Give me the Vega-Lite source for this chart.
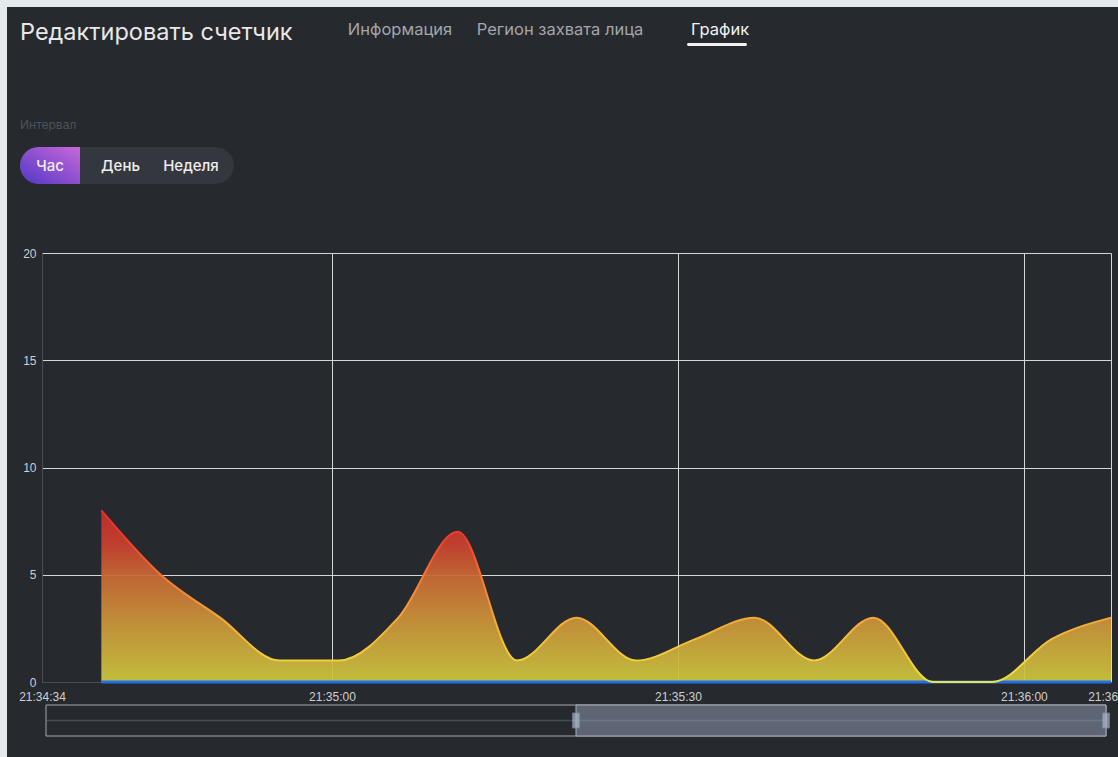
{
  "$schema": "https://vega.github.io/schema/vega-lite/v6.json",
  "width": 1111,
  "height": 750,
  "autosize": {"type": "none"},
  "padding": {"left": 7, "top": 7, "right": 0, "bottom": 0},
  "background": "#e4e9ec",
  "config": {"view": {"fill": "#26292e", "stroke": null}, "font": "Liberation Sans"},
  "datasets": {
    "counts": [
      {"time": "2024-01-01T21:34:40.000", "count": 8},
      {"time": "2024-01-01T21:34:45.150", "count": 5},
      {"time": "2024-01-01T21:34:50.300", "count": 3},
      {"time": "2024-01-01T21:34:55.450", "count": 1},
      {"time": "2024-01-01T21:35:00.600", "count": 1},
      {"time": "2024-01-01T21:35:05.750", "count": 3},
      {"time": "2024-01-01T21:35:10.900", "count": 7},
      {"time": "2024-01-01T21:35:16.050", "count": 1},
      {"time": "2024-01-01T21:35:21.200", "count": 3},
      {"time": "2024-01-01T21:35:26.350", "count": 1},
      {"time": "2024-01-01T21:35:31.500", "count": 2},
      {"time": "2024-01-01T21:35:36.650", "count": 3},
      {"time": "2024-01-01T21:35:41.800", "count": 1},
      {"time": "2024-01-01T21:35:46.950", "count": 3},
      {"time": "2024-01-01T21:35:52.100", "count": 0},
      {"time": "2024-01-01T21:35:57.250", "count": 0},
      {"time": "2024-01-01T21:36:02.400", "count": 2},
      {"time": "2024-01-01T21:36:07.550", "count": 3}
    ],
    "heading": [{"heading": "Редактировать счетчик"}],
    "tabs": [
      {"tab": "Информация"},
      {"tab": "Регион захвата лица"},
      {"tab": "График"}
    ],
    "interval": [{"control": "Интервал"}],
    "buttons": [
      {"button": "Час", "selected": true},
      {"button": "День", "selected": false},
      {"button": "Неделя", "selected": false}
    ],
    "zoom": [
      {"part": "all", "start": 0, "end": 100},
      {"part": "window", "start": 50, "end": 100}
    ]
  },
  "resolve": {
    "scale": {"x": "independent", "y": "independent", "color": "independent"},
    "axis": {"x": "independent", "y": "independent"}
  },
  "layer": [
    {
      "data": {"name": "counts"},
      "encoding": {
        "x": {
          "field": "time",
          "type": "temporal",
          "scale": {
            "domain": [
              {"year": 2024, "month": 1, "date": 1, "hours": 21, "minutes": 34, "seconds": 34, "milliseconds": 855},
              {"year": 2024, "month": 1, "date": 1, "hours": 21, "minutes": 36, "seconds": 7, "milliseconds": 550}
            ],
            "range": [35, 1104],
            "nice": false
          },
          "axis": {
            "orient": "top",
            "offset": -675,
            "title": null,
            "values": [
              {"year": 2024, "month": 1, "date": 1, "hours": 21, "minutes": 34, "seconds": 34, "milliseconds": 855},
              {"year": 2024, "month": 1, "date": 1, "hours": 21, "minutes": 35, "seconds": 0},
              {"year": 2024, "month": 1, "date": 1, "hours": 21, "minutes": 35, "seconds": 30},
              {"year": 2024, "month": 1, "date": 1, "hours": 21, "minutes": 36, "seconds": 0},
              {"year": 2024, "month": 1, "date": 1, "hours": 21, "minutes": 36, "seconds": 7, "milliseconds": 550}
            ],
            "format": "%H:%M:%S",
            "labelFlush": false,
            "labelOverlap": false,
            "labelBound": false,
            "labelFont": "Liberation Sans",
            "labelFontSize": 12,
            "labelColor": "#cfcfcf",
            "labelBaseline": "top",
            "labelPadding": -9,
            "ticks": false,
            "domainColor": "#4a4e54",
            "grid": true,
            "gridColor": {"condition": {"test": "datum.value < datetime(2024, 0, 1, 21, 34, 50)", "value": "#4a4e54"}, "value": "#d6d6d6"},
            "gridWidth": 1
          }
        },
        "y": {
          "field": "count",
          "type": "quantitative",
          "scale": {"domain": [0, 20], "range": [675, 246], "nice": false},
          "axis": {
            "orient": "left",
            "offset": -35,
            "title": null,
            "values": [0, 5, 10, 15, 20],
            "labelFont": "Liberation Sans",
            "labelFontSize": 12,
            "labelColor": "#cfcfcf",
            "labelPadding": 6,
            "ticks": false,
            "domainColor": "#4a4e54",
            "grid": true,
            "gridColor": {"condition": {"test": "datum.value === 0", "value": "#4a4e54"}, "value": "#d6d6d6"},
            "gridWidth": 1
          }
        }
      },
      "layer": [
        {
          "mark": {
            "type": "area",
            "interpolate": "monotone",
            "fillOpacity": 0.93,
            "color": {
              "gradient": "linear",
              "x1": 0, "y1": 1, "x2": 0, "y2": 0,
              "stops": [
                {"offset": 0, "color": "#cdc83e"},
                {"offset": 0.35, "color": "#cc9539"},
                {"offset": 0.6, "color": "#cb6d35"},
                {"offset": 0.8, "color": "#cb412f"},
                {"offset": 1, "color": "#c92a2b"}
              ]
            }
          }
        },
        {
          "mark": {"type": "line", "color": "#1f6fe8", "strokeWidth": 3},
          "encoding": {"y": {"datum": 0}}
        },
        {
          "mark": {
            "type": "line",
            "interpolate": "monotone",
            "strokeWidth": 2,
            "color": {
              "gradient": "linear",
              "x1": 0, "y1": 1, "x2": 0, "y2": 0,
              "stops": [
                {"offset": 0, "color": "#f2e43c"},
                {"offset": 0.35, "color": "#f5ac35"},
                {"offset": 0.6, "color": "#f57a30"},
                {"offset": 0.85, "color": "#ef3a2b"},
                {"offset": 1, "color": "#e8302a"}
              ]
            }
          }
        }
      ]
    },
    {
      "data": {"name": "zoom"},
      "layer": [
        {
          "transform": [{"filter": "datum.part === 'all'"}],
          "mark": {"type": "rect", "fill": "#26292e", "stroke": "#a3a7ad", "strokeWidth": 1},
          "encoding": {
            "x": {"field": "start", "type": "quantitative", "scale": {"domain": [0, 100], "range": [39, 1099], "nice": false, "zero": false}, "axis": null},
            "x2": {"field": "end"},
            "y": {"datum": 0, "type": "quantitative", "scale": {"domain": [0, 1], "range": [729, 698], "nice": false}, "axis": null},
            "y2": {"datum": 1}
          }
        },
        {
          "transform": [{"filter": "datum.part === 'window'"}],
          "mark": {"type": "rect", "fill": "#5e6574", "stroke": "#a9aeb6", "strokeWidth": 1},
          "encoding": {
            "x": {"field": "start", "type": "quantitative"},
            "x2": {"field": "end"},
            "y": {"datum": 0, "type": "quantitative"},
            "y2": {"datum": 1}
          }
        },
        {
          "transform": [{"filter": "datum.part === 'all'"}],
          "mark": {"type": "rule", "color": "#9aa0a8", "opacity": 0.3, "strokeWidth": 1.5},
          "encoding": {
            "x": {"field": "start", "type": "quantitative"},
            "x2": {"field": "end"},
            "y": {"datum": 0.5, "type": "quantitative"}
          }
        },
        {
          "transform": [
            {"filter": "datum.part === 'window'"},
            {"fold": ["start", "end"], "as": ["edge", "position"]}
          ],
          "mark": {"type": "tick", "orient": "vertical", "thickness": 7, "size": 15, "color": "#a9b7cc", "stroke": "#8797ad", "strokeWidth": 1},
          "encoding": {
            "x": {"field": "position", "type": "quantitative"},
            "y": {"datum": 0.5, "type": "quantitative"}
          }
        }
      ]
    },
    {
      "data": {"name": "heading"},
      "mark": {"type": "text", "align": "left", "baseline": "middle", "font": "Inter", "fontSize": 23.5, "color": "#e8e8e8"},
      "encoding": {
        "text": {"field": "heading"},
        "x": {"field": "heading", "type": "nominal", "scale": {"type": "point", "range": [13, 13], "padding": 0}, "axis": null},
        "y": {"field": "heading", "type": "nominal", "scale": {"type": "point", "range": [26, 26], "padding": 0}, "axis": null}
      }
    },
    {
      "data": {"name": "tabs"},
      "mark": {"type": "text", "align": "center", "baseline": "middle", "font": "Inter", "fontSize": 16.5},
      "encoding": {
        "text": {"field": "tab"},
        "x": {"field": "tab", "type": "nominal", "scale": {"type": "point", "domain": ["Информация", "Регион захвата лица", "График"], "range": [393, 713], "padding": 0}, "axis": null},
        "y": {"field": "tab", "type": "nominal", "scale": {"type": "point", "range": [23, 23], "padding": 0}, "axis": null},
        "color": {"field": "tab", "type": "nominal", "scale": {"domain": ["Информация", "Регион захвата лица", "График"], "range": ["#a3a6ab", "#a3a6ab", "#f2f2f2"]}, "legend": null}
      }
    },
    {
      "data": {"name": "tabs"},
      "transform": [{"filter": "datum.tab === 'График'"}],
      "mark": {"type": "bar", "color": "#f2f2f2", "cornerRadius": 1.5},
      "encoding": {
        "x": {"field": "tab", "type": "nominal", "scale": {"type": "band", "range": [680, 740], "paddingInner": 0, "paddingOuter": 0}, "axis": null},
        "y": {"field": "tab", "type": "nominal", "scale": {"type": "band", "range": [36, 39], "paddingInner": 0, "paddingOuter": 0}, "axis": null}
      }
    },
    {
      "data": {"name": "interval"},
      "mark": {"type": "text", "align": "left", "baseline": "middle", "font": "Inter", "fontSize": 12, "color": "#4f5358"},
      "encoding": {
        "text": {"field": "control"},
        "x": {"field": "control", "type": "nominal", "scale": {"type": "point", "range": [13, 13], "padding": 0}, "axis": null},
        "y": {"field": "control", "type": "nominal", "scale": {"type": "point", "range": [118, 118], "padding": 0}, "axis": null}
      }
    },
    {
      "data": {"name": "interval"},
      "mark": {"type": "bar", "color": "#34373e", "cornerRadius": 18.5},
      "encoding": {
        "x": {"field": "control", "type": "nominal", "scale": {"type": "band", "range": [13, 227], "paddingInner": 0, "paddingOuter": 0}, "axis": null},
        "y": {"field": "control", "type": "nominal", "scale": {"type": "band", "range": [140, 177], "paddingInner": 0, "paddingOuter": 0}, "axis": null}
      }
    },
    {
      "data": {"name": "buttons"},
      "transform": [{"filter": "datum.selected"}],
      "mark": {
        "type": "bar",
        "cornerRadiusTopLeft": 18.5,
        "cornerRadiusBottomLeft": 18.5,
        "color": {
          "gradient": "linear",
          "x1": 0, "y1": 1, "x2": 1, "y2": 0,
          "stops": [
            {"offset": 0, "color": "#5238c4"},
            {"offset": 1, "color": "#c867da"}
          ]
        }
      },
      "encoding": {
        "x": {"field": "button", "type": "nominal", "scale": {"type": "band", "range": [13, 73], "paddingInner": 0, "paddingOuter": 0}, "axis": null},
        "y": {"field": "button", "type": "nominal", "scale": {"type": "band", "range": [140, 177], "paddingInner": 0, "paddingOuter": 0}, "axis": null}
      }
    },
    {
      "data": {"name": "buttons"},
      "mark": {"type": "text", "align": "center", "baseline": "middle", "font": "Inter", "fontSize": 15, "fontWeight": 500, "color": "#eeeeee"},
      "encoding": {
        "text": {"field": "button"},
        "x": {"field": "button", "type": "nominal", "scale": {"type": "point", "domain": ["Час", "День", "Неделя"], "range": [43, 184], "padding": 0}, "axis": null},
        "y": {"field": "button", "type": "nominal", "scale": {"type": "point", "range": [159, 159], "padding": 0}, "axis": null}
      }
    }
  ]
}
